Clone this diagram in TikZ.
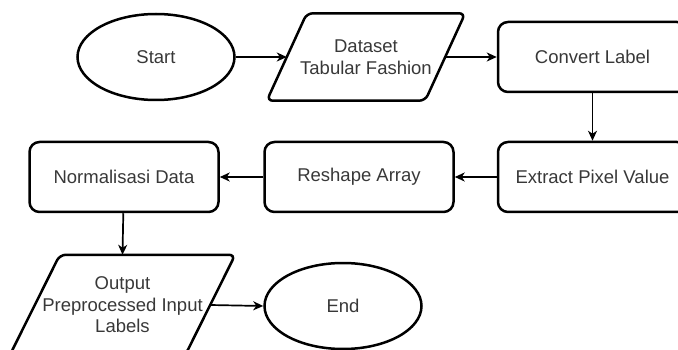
\documentclass[tikz,border=0pt]{standalone}
\usepackage{fontspec}
\setmainfont{Liberation Sans}
\usetikzlibrary{shapes.geometric,arrows.meta}

\tikzset{
  base/.style={font=\fontsize{18.5}{21.5}\selectfont, text=black!78, align=center, inner sep=0pt},
  outline/.style={draw=black, line width=2.5pt},
  term/.style={base, outline, ellipse, minimum width=157, minimum height=86},
  proc/.style={base, outline, rectangle, rounded corners=10pt, minimum width=189, minimum height=70},
  io/.style={base, rectangle, minimum height=#1},
  flow/.style={draw=black, line width=1.7pt, -{Stealth[length=10pt, width=9pt, inset=3pt]}},
}

% parallelogram drawn around a data node; #2 = horizontal lean of the top/bottom edges
\newcommand{\ioframe}[2]{%
  \draw[outline, rounded corners=6pt]
    ([xshift=#2]#1.north west) -- ([xshift=#2]#1.north east) --
    ([xshift=-#2]#1.south east) -- ([xshift=-#2]#1.south west) -- cycle;}

\begin{document}
\begin{tikzpicture}[x=1pt, y=-1pt]
  \useasboundingbox (0,0) rectangle (678,350);
  \clip (0,0) rectangle (678,350);

  % top row
  \node[term] (start) at (156,57) {Start};
  \node[io=87, minimum width=158] (dataset) at (366,57) {Dataset\\Tabular Fashion};
  \ioframe{dataset}{20pt}
  \node[proc] (convert) at (592.5,57) {Convert Label};

  % middle row
  \node[proc] (extract) at (592.5,177) {Extract Pixel Value};
  \node[proc] (reshape) at (359,177) {Reshape Array};
  \node[proc] (normal) at (124,177) {Normalisasi Data};

  % bottom row
  \node[io=100, minimum width=175] (output) at (122.5,305) {Output\\Preprocessed Input\\Labels};
  \ioframe{output}{25pt}
  \node[term] (end) at (343,306) {End};

  % connectors
  \draw[flow] (start) -- (dataset.west);
  \draw[flow] (dataset.east) -- (convert);
  \draw[flow] (convert) -- (extract);
  \draw[flow] (extract) -- (reshape);
  \draw[flow] (reshape) -- (normal);
  \draw[flow] (normal) -- (output.north);
  \draw[flow] (output.east) -- (end.west);
\end{tikzpicture}
\end{document}
